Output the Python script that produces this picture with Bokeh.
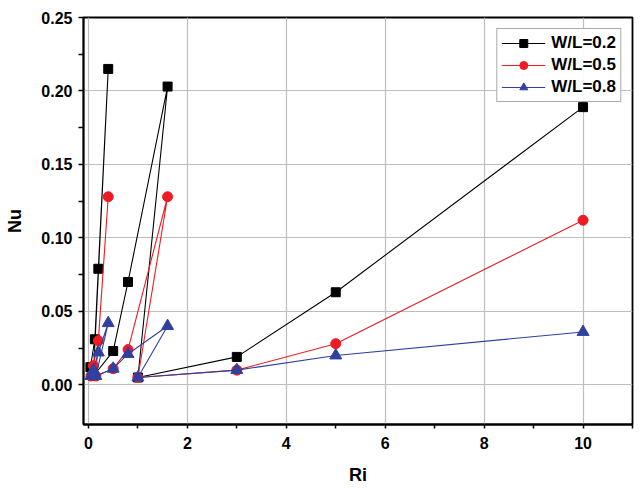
from bokeh.plotting import figure
from bokeh.models import Range1d, FixedTicker, NumeralTickFormatter, Legend, LegendItem
from bokeh.embed import file_html
from bokeh.resources import INLINE

# Data
ri_02 = [0.04, 0.13, 0.2, 0.4, 0.1, 0.5, 0.8, 1.6, 1.0, 3.0, 5.0, 10.0]
nu_02 = [0.012, 0.031, 0.079, 0.215, 0.006, 0.023, 0.070, 0.203, 0.005, 0.019, 0.063, 0.189]

ri_05 = [0.05, 0.1, 0.2, 0.4, 0.15, 0.5, 0.8, 1.6, 1.0, 3.0, 5.0, 10.0]
nu_05 = [0.006, 0.013, 0.030, 0.128, 0.006, 0.011, 0.024, 0.128, 0.005, 0.010, 0.028, 0.112]

ri_08 = [0.05, 0.1, 0.2, 0.4, 0.15, 0.5, 0.8, 1.6, 1.0, 3.0, 5.0, 10.0]
nu_08 = [0.006, 0.010, 0.022, 0.042, 0.006, 0.011, 0.021, 0.040, 0.005, 0.010, 0.020, 0.036]

labels = ["W/L=0.2", "W/L=0.5", "W/L=0.8"]
x_ticks = [0, 2, 4, 6, 8, 10]
y_ticks = [0.00, 0.05, 0.10, 0.15, 0.20, 0.25]

FONT = "Liberation Sans"

p = figure(width=640, height=488, output_backend="svg", toolbar_location=None,
           x_range=Range1d(-0.1, 11.0), y_range=Range1d(-0.027, 0.25),
           min_border_left=83, min_border_right=8, min_border_top=17, min_border_bottom=64)

p.outline_line_color = "black"
p.outline_line_width = 1.8
p.background_fill_color = "white"
p.border_fill_color = "white"

for ax in (p.xaxis[0], p.yaxis[0]):
    ax.axis_line_width = 1.8
    ax.axis_line_color = "black"
    ax.major_tick_in = 0
    ax.minor_tick_in = 0
    ax.major_tick_line_width = 1.5
    ax.minor_tick_line_width = 1.5
    ax.major_label_text_font = FONT
    ax.major_label_text_font_style = "bold"
    ax.major_label_text_font_size = "16px"
    ax.major_label_text_color = "black"
    ax.axis_label_text_font = FONT
    ax.axis_label_text_font_style = "bold"
    ax.axis_label_text_font_size = "18px"
    ax.axis_label_text_color = "black"

p.xaxis.major_tick_out = 4
p.xaxis.minor_tick_out = 4
p.yaxis.major_tick_out = 5
p.yaxis.minor_tick_out = 5

p.xaxis.ticker = FixedTicker(ticks=x_ticks, minor_ticks=[1, 3, 5, 7, 9, 11])
p.yaxis.ticker = FixedTicker(ticks=y_ticks, minor_ticks=[0.025, 0.075, 0.125, 0.175, 0.225])
p.yaxis.formatter = NumeralTickFormatter(format="0.00")
p.xaxis.axis_label = "Ri"
p.yaxis.axis_label = "Nu"
p.xaxis.major_label_standoff = 8
p.yaxis.major_label_standoff = 6
p.xaxis.axis_label_standoff = 13
p.yaxis.axis_label_standoff = 13

p.xgrid.grid_line_color = "#bdbdbd"
p.ygrid.grid_line_color = "#bdbdbd"
p.xgrid.grid_line_width = 1.2
p.ygrid.grid_line_width = 1.2

colors = ["black", "#ee1b24", "#3040a0"]
markers = ["square", "circle", "triangle"]
sizes = [9, 10, 12]
series = [(ri_02, nu_02), (ri_05, nu_05), (ri_08, nu_08)]

items = []
for (xs, ys), c, m, s, lab in zip(series, colors, markers, sizes, labels):
    r_line = p.line(xs, ys, line_color=c, line_width=1.1)
    r_pts = p.scatter(xs, ys, marker=m, size=s, fill_color=c, line_color=c)
    items.append(LegendItem(label=lab, renderers=[r_line, r_pts]))

legend = Legend(items=items, location="top_right")
legend.label_text_font = FONT
legend.label_text_font_style = "bold"
legend.label_text_font_size = "17px"
legend.label_text_color = "black"
legend.border_line_color = "#555555"
legend.border_line_width = 1.2
legend.glyph_width = 44
legend.glyph_height = 20
legend.label_height = 20
legend.spacing = 2
legend.padding = 4
legend.margin = 11
legend.label_standoff = 6
p.add_layout(legend)

open("out.html", "w").write(file_html(p, INLINE))
